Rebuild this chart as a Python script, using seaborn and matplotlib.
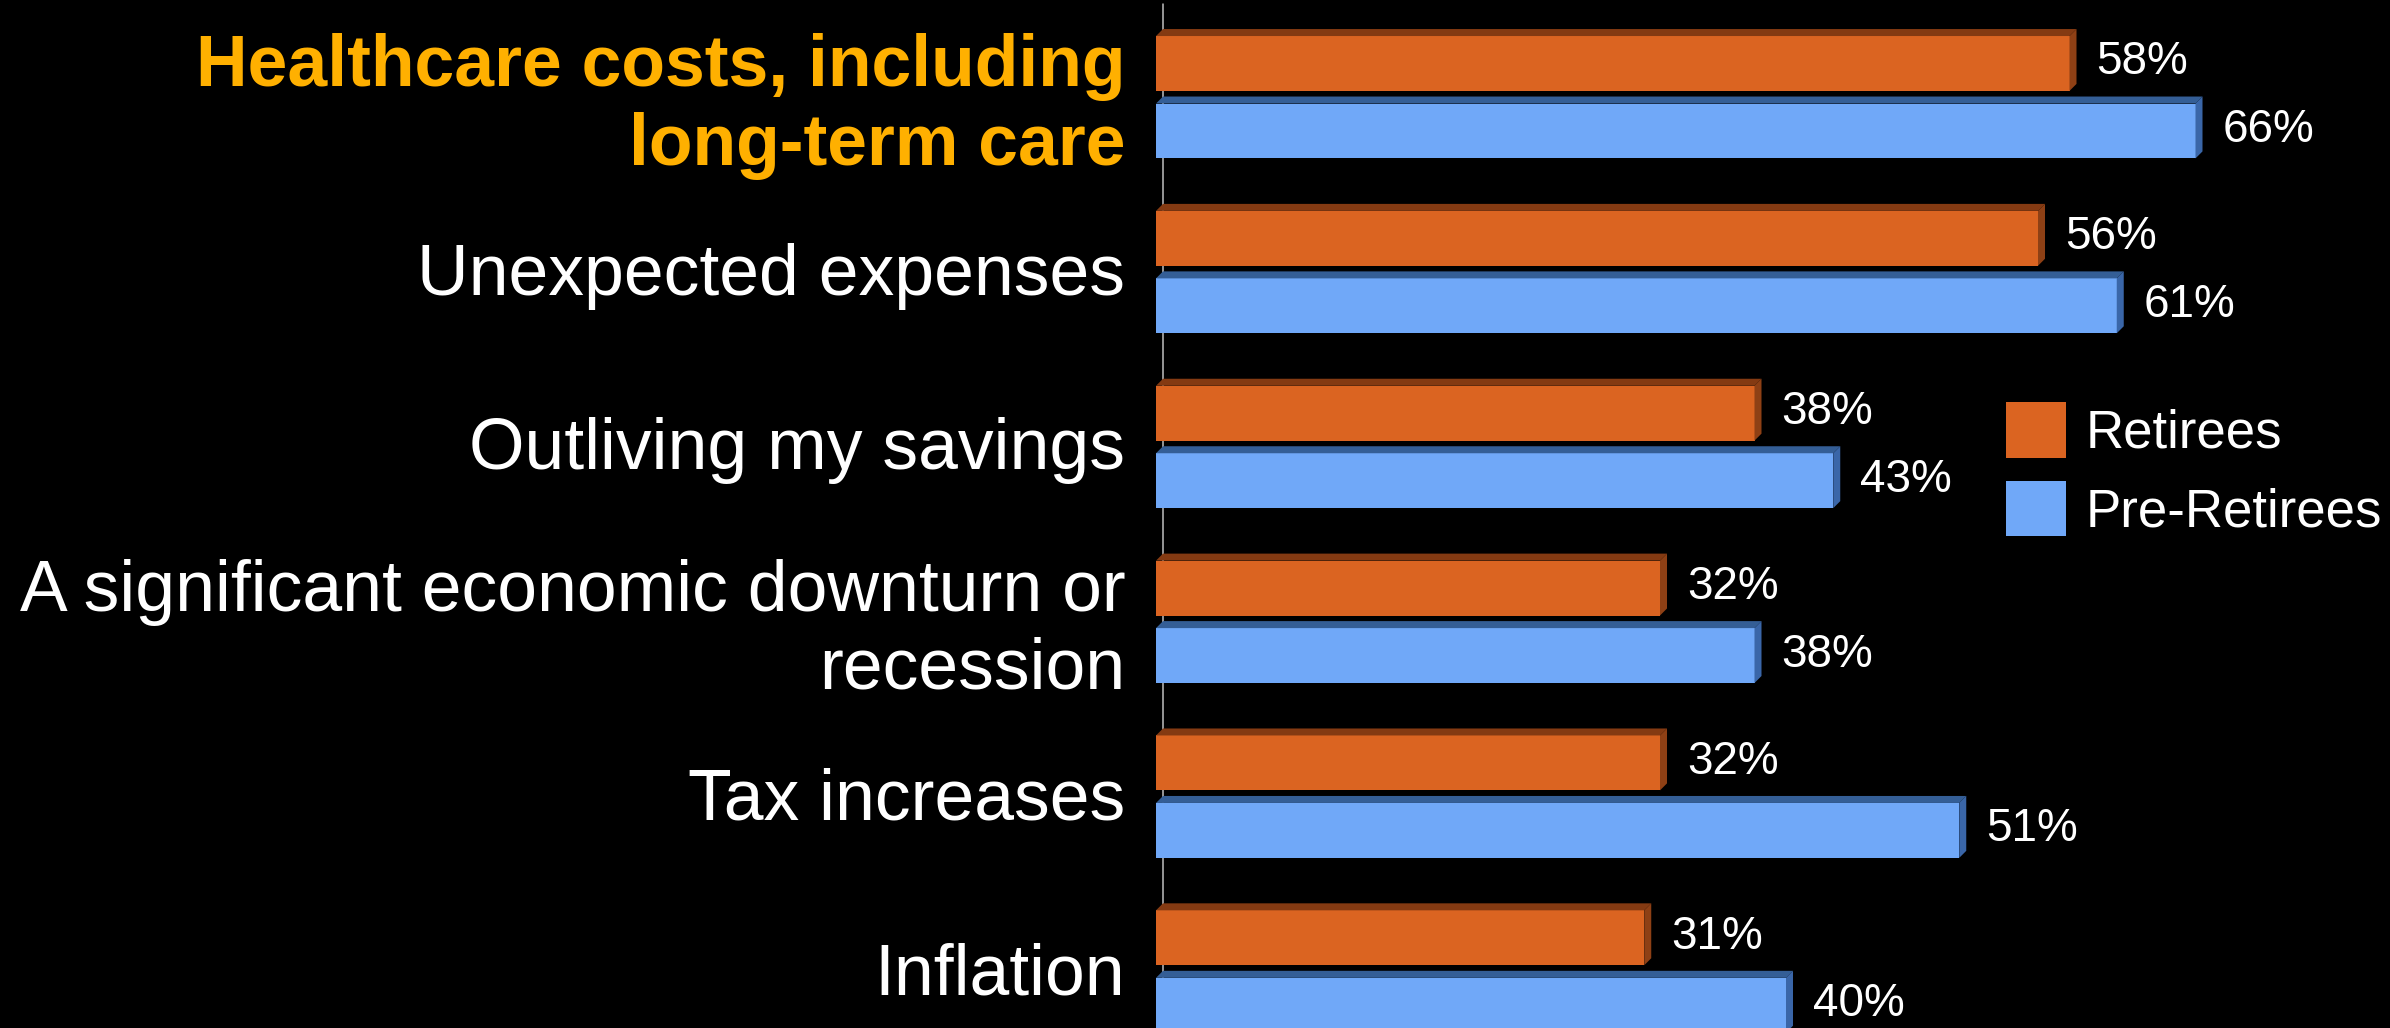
import matplotlib
matplotlib.use("Agg")
import matplotlib.pyplot as plt
from matplotlib.patches import Polygon, Patch
import seaborn as sns
import pandas as pd

# Survey data
categories = [
    "Healthcare costs, including\nlong-term care",
    "Unexpected expenses",
    "Outliving my savings",
    "A significant economic downturn or\nrecession",
    "Tax increases",
    "Inflation",
]
groups = ["Retirees", "Pre-Retirees"]
retirees = [58, 56, 38, 32, 32, 31]
pre_retirees = [66, 61, 43, 38, 51, 40]

face_colors = {"Retirees": "#DB6421", "Pre-Retirees": "#70A8F8"}
top_colors = {"Retirees": "#843A12", "Pre-Retirees": "#345E96"}
side_colors = {"Retirees": "#8E4015", "Pre-Retirees": "#3A66A8"}
highlight = "#FFB000"

df = pd.DataFrame({
    "concern": categories * 2,
    "group": [groups[0]] * len(categories) + [groups[1]] * len(categories),
    "pct": retirees + pre_retirees,
})

sns.set_theme(style="white", rc={
    "figure.facecolor": "black",
    "axes.facecolor": "black",
    "savefig.facecolor": "black",
})
plt.rcParams["font.family"] = ["Liberation Sans", "DejaVu Sans"]

W, H, DPI = 23.9, 10.28, 100
fig = plt.figure(figsize=(W, H), dpi=DPI)
ax_left_px = 1156
ax = fig.add_axes([ax_left_px / 2390, 0, 1 - ax_left_px / 2390, 1])

sns.barplot(
    data=df, y="concern", x="pct", hue="group", order=categories,
    hue_order=groups, palette=face_colors, orient="h", saturation=1,
    width=0.772, gap=0.083, errorbar=None, legend=False,
    linewidth=0, ax=ax,
)

xmax = (2390 - ax_left_px) / 15.75
ax.set_xlim(0, xmax)
ax.set_ylim(5.343, -0.536)

px_x = xmax / (2390 - ax_left_px)   # data units per pixel, x
px_y = (5.343 + 0.536) / 1028        # data units per pixel, y
depth = 7 * px_x
strip = 7 * px_y

# back-wall zero line
ax.axvline(depth, ymin=0, ymax=0.996, color="#BFBFBF", lw=1.1, zorder=0.5)

# 3D bevel: dark top strip and right side on every bar
for group, values, container in zip(groups, [retirees, pre_retirees], ax.containers):
    for bar, v in zip(container, values):
        y0 = bar.get_y()
        h = bar.get_height()
        bar.set_y(y0 + strip)
        bar.set_height(h - strip)
        bar.set_zorder(2)
        top = Polygon([(0, y0 + strip), (depth, y0), (v + depth, y0), (v, y0 + strip)],
                      closed=True, facecolor=top_colors[group], edgecolor="none", zorder=2)
        side = Polygon([(v, y0 + strip), (v + depth, y0), (v + depth, y0 + h - strip), (v, y0 + h)],
                       closed=True, facecolor=side_colors[group], edgecolor="none", zorder=2)
        ax.add_patch(top)
        ax.add_patch(side)
        face_mid = y0 + strip + (h - strip) / 2
        ax.text(v + depth + 20 * px_x, face_mid - 1 * px_y, f"{v}%",
                color="white", fontsize=33, ha="left", va="center")

ax.set_xlabel("")
ax.set_ylabel("")
ax.set_xticks([])
ax.set_yticks(range(len(categories)))
ax.set_yticklabels(categories, fontsize=51.5, color="white")
ax.tick_params(axis="y", length=0, pad=22)
lab0 = ax.get_yticklabels()[0]
lab0.set_color(highlight)
lab0.set_fontweight("bold")
for s in ax.spines.values():
    s.set_visible(False)

handles = [Patch(facecolor=face_colors[g], edgecolor="none") for g in groups]
fs_leg = 38
fs_px = fs_leg * DPI / 72
fig.legend(handles, groups, loc="center left",
           bbox_to_anchor=(2006 / 2390, 1 - 469.5 / 1028),
           frameon=False, fontsize=fs_leg, labelcolor="white",
           handlelength=60 / fs_px, handleheight=66 / fs_px,
           handletextpad=20 / fs_px, labelspacing=0.42,
           borderpad=0, borderaxespad=0)

fig.savefig("out.png", dpi=DPI)
